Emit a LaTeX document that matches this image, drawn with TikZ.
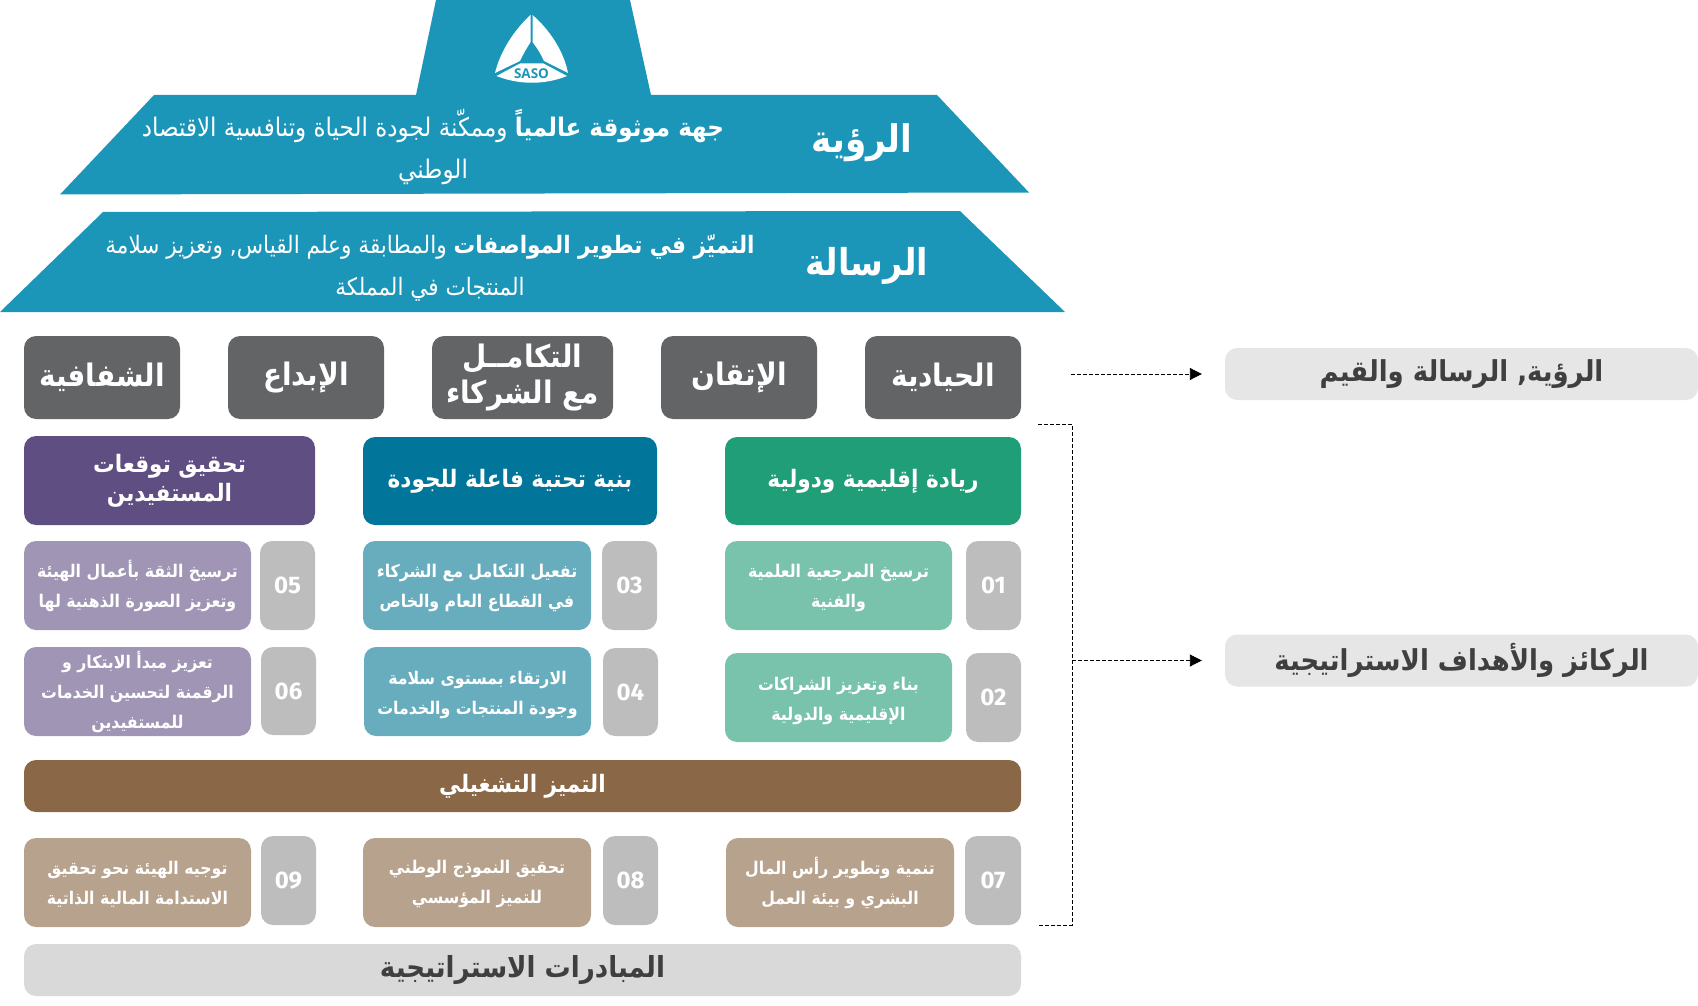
\documentclass[tikz,border=0pt]{standalone}
\usepackage{fontspec}
\usetikzlibrary{arrows.meta}
\TeXXeTstate=1
\newfontfamily\arb[Script=Arabic,FakeStretch=0.9]{DejaVu Sans}
\newfontfamily\numf{Fira Sans}
\newfontfamily\logof{Open Sans}
\newcommand{\ar}[1]{\beginR #1\endR}
\newcommand{\fs}[2]{\fontsize{#1}{#2}\selectfont}
\newcommand{\tall}[1]{\rule{0pt}{#1pt}}
\definecolor{saso}{HTML}{1C96B8}
\definecolor{valg}{HTML}{636466}
\definecolor{purp}{HTML}{5F4E82}
\definecolor{teald}{HTML}{02769A}
\definecolor{greend}{HTML}{1F9E78}
\definecolor{purpl}{HTML}{A095B4}
\definecolor{teall}{HTML}{68ADBE}
\definecolor{greenl}{HTML}{79C2AC}
\definecolor{numg}{HTML}{BDBDBD}
\definecolor{brownd}{HTML}{8A6746}
\definecolor{tan}{HTML}{B7A28D}
\definecolor{barg}{HTML}{D9D9D9}
\definecolor{legg}{HTML}{E6E6E6}
\definecolor{inkd}{HTML}{3F3F3F}
\tikzset{
  rb/.style={rectangle,rounded corners=12pt,inner sep=0pt,align=center,text=white},
  valbox/.style={rb,fill=valg,minimum height=83pt,font=\arb\bfseries\fs{31}{36}},
  headbox/.style={rb,minimum height=88pt,font=\arb\bfseries\fs{24}{29}},
  subbox/.style={rb,minimum width=227pt,minimum height=89pt,font=\arb\bfseries\fs{17.5}{30}},
  numbox/.style={rb,fill=numg,minimum width=55pt,minimum height=89pt,font=\numf\bfseries\fs{24}{28}},
  bandbox/.style={rb,minimum width=997pt,minimum height=52pt},
  legbox/.style={rb,fill=legg,text=inkd,minimum width=473pt,minimum height=52pt,font=\arb\bfseries\fs{28.8}{34}},
  conn/.style={black,line width=0.9pt,dash pattern=on 4pt off 2pt},
  tiptext/.style={text=white,align=center,inner sep=0pt},
}
\begin{document}
\begin{tikzpicture}[x=1pt,y=-1pt]
\useasboundingbox (0,0) rectangle (1698,1006);
% pyramid
\fill[saso] (436,0) -- (630,0) -- (651,95) -- (937,95) -- (1029,192.5) -- (60,194.5) -- (154,95) -- (416,95) -- cycle;
\fill[saso] (103,212) -- (960,211) -- (1065,312) -- (0,312) -- cycle;
% logo
\fill[white] (530.5,15) .. controls (514,30) and (500,52) .. (495,73) -- (520,61) .. controls (523,54) and (527,48) .. (530.5,42) -- cycle;
\fill[white] (532.5,15) .. controls (550,30) and (564,52) .. (568,73) -- (544,61) .. controls (541,54) and (537,48) .. (532.5,42) -- cycle;
\fill[white] (496.5,76) -- (520,63.5) -- (543.5,63.5) -- (567,76) .. controls (545,85) and (519,85) .. (496.5,76) -- cycle;
\node[inner sep=0pt,text=saso] (logotext) at (531.5,73.5) {\logof\bfseries\fs{13.5}{15}SASO};
% vision and mission
\node[tiptext,font=\arb\bfseries\fs{38}{44}] (visiont) at (862,143) {\ar{الرؤية}};
\node[tiptext,font=\arb\fs{25.6}{42}] (visionb) at (433,147) {\ar{{\bfseries جهة موثوقة عالمياً} وممكّنة لجودة الحياة وتنافسية الاقتصاد}\\\ar{الوطني}};
\node[tiptext,font=\arb\bfseries\fs{37}{44}] (missiont) at (867,266) {\ar{الرسالة}};
\node[tiptext,font=\arb\fs{24}{42}] (missionb) at (430,268) {\ar{{\bfseries التميّز في تطوير المواصفات} والمطابقة وعلم القياس, وتعزيز سلامة}\\\ar{المنتجات في المملكة}};
% values
\node[valbox,minimum width=156pt] (v1) at (943,377.5) {\ar{الحيادية}};
\node[valbox,minimum width=156pt] (v2) at (739,377.5) {\ar{الإتقان}};
\node[valbox,minimum width=181pt] (v3) at (522.5,377.5) {\ar{التكامــل}\\\ar{مع الشركاء}};
\node[valbox,minimum width=156pt] (v4) at (306,377.5) {\ar{الإبداع}};
\node[valbox,minimum width=156pt] (v5) at (102,377.5) {\ar{الشفافية}};
% pillar heads
\node[headbox,fill=greend,minimum width=296pt] (h1) at (873,481) {\ar{ريادة إقليمية ودولية}};
\node[headbox,fill=teald,minimum width=294pt] (h2) at (510,481) {\ar{بنية تحتية فاعلة للجودة}};
\node[headbox,fill=purp,minimum width=291pt,minimum height=89pt] (h3) at (169.5,480.5) {\ar{تحقيق توقعات}\\\ar{المستفيدين}};
% row 1
\node[subbox,fill=greenl] (s1) at (838.5,585.5) {\tall{18}\ar{ترسيخ المرجعية العلمية}\\\ar{والفنية}};
\node[numbox] (n1) at (993.5,585.5) {01};
\node[subbox,fill=teall,minimum width=228pt] (s3) at (477,585.5) {\tall{18}\ar{تفعيل التكامل مع الشركاء}\\\ar{في القطاع العام والخاص}};
\node[numbox] (n3) at (629.5,585.5) {03};
\node[subbox,fill=purpl] (s5) at (137.5,585.5) {\ar{ترسيخ الثقة بأعمال الهيئة}\\\ar{وتعزيز الصورة الذهنية لها}};
\node[numbox] (n5) at (287.5,585.5) {05};
% row 2
\node[subbox,fill=greenl] (s2) at (838.5,697.5) {\tall{20}\ar{بناء وتعزيز الشراكات}\\\ar{الإقليمية والدولية}};
\node[numbox] (n2) at (993.5,697.5) {02};
\node[subbox,fill=teall] (s4) at (477.5,691.5) {\tall{20}\ar{الارتقاء بمستوى سلامة}\\\ar{وجودة المنتجات والخدمات}};
\node[numbox,minimum height=88pt] (n4) at (630.5,692) {04};
\node[subbox,fill=purpl] (s6) at (137.5,691.5) {\ar{تعزيز مبدأ الابتكار و}\\\ar{الرقمنة لتحسين الخدمات}\\\ar{للمستفيدين}};
\node[numbox,minimum height=88pt] (n6) at (288.5,691) {06};
% operational band
\node[bandbox,fill=brownd,font=\arb\bfseries\fs{24}{30}] (band) at (522.5,786) {\ar{التميز التشغيلي}};
% row 3
\node[subbox,fill=tan,minimum width=228pt] (s7) at (840,882.5) {\ar{تنمية وتطوير رأس المال}\\\ar{البشري و بيئة العمل}};
\node[numbox,minimum width=56pt] (n7) at (993,880.5) {07};
\node[subbox,fill=tan,minimum width=228pt] (s8) at (477,882.5) {\tall{16}\ar{تحقيق النموذج الوطني}\\\ar{للتميز المؤسسي}};
\node[numbox] (n8) at (630.5,880.5) {08};
\node[subbox,fill=tan] (s9) at (137.5,882.5) {\tall{16}\ar{توجيه الهيئة نحو تحقيق}\\\ar{الاستدامة المالية الذاتية}};
\node[numbox] (n9) at (288.5,880.5) {09};
% initiatives
\node[bandbox,fill=barg,text=inkd,font=\arb\bfseries\fs{29}{34}] (initb) at (522.5,970) {\ar{المبادرات الاستراتيجية}};
% legend
\node[legbox] (leg1) at (1461.5,374) {\ar{الرؤية, الرسالة والقيم}};
\node[legbox] (leg2) at (1461.5,660.5) {\ar{الركائز والأهداف الاستراتيجية}};
% connectors
\coordinate (a1) at (1071,374);
\coordinate (b1) at (1038,424);
\coordinate (b2) at (1072,424);
\coordinate (b3) at (1072,925);
\coordinate (b4) at (1038,925);
\coordinate (b5) at (1072,660.5);
\draw[conn] (b1) -- (b2) -- (b3) -- (b4);
\draw[conn,-{Triangle[length=12pt,width=12pt]},shorten >=23pt] (a1) -- (leg1.west);
\draw[conn,-{Triangle[length=12pt,width=12pt]},shorten >=23pt] (b5) -- (leg2.west);
\end{tikzpicture}
\end{document}
